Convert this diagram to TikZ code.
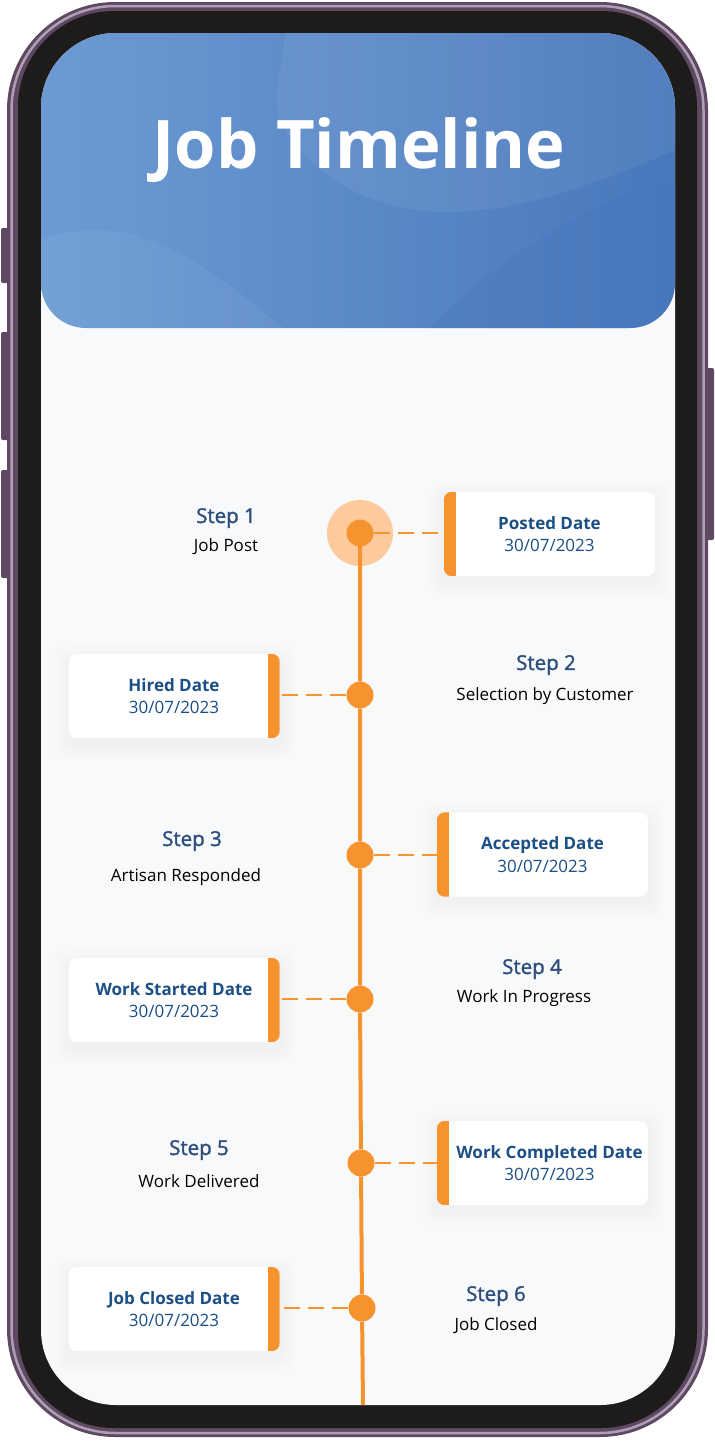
\documentclass[tikz,border=0pt]{standalone}
\usepackage{fontspec}
\setmainfont{Open Sans}
\newfontfamily\stepfont[FakeBold=1.5]{Open Sans}
\usepackage{xcolor}
\usepackage{tikz}
\usetikzlibrary{positioning, calc}

\definecolor{framepurple}{HTML}{5E4862}
\definecolor{framelight}{HTML}{AE9FB3}
\definecolor{bezel}{HTML}{1D1C1B}
\definecolor{screenbg}{HTML}{F8F9FA}
\definecolor{headlight}{HTML}{6C9BD3}
\definecolor{headdark}{HTML}{4977BC}
\definecolor{tlorange}{HTML}{F7932F}
\definecolor{halo}{HTML}{FCCA9C}
\definecolor{cardblue}{HTML}{1C4F86}
\definecolor{stepblue}{HTML}{2E4F7E}

\begin{document}
\begin{tikzpicture}[
    x=1pt, y=-1pt,
    dot/.style={circle, fill=tlorange, minimum size=27pt, inner sep=0pt},
    card/.style={rectangle, rounded corners=8pt, fill=white, minimum width=211pt,
      minimum height=84pt, inner sep=0pt, align=center, text=cardblue,
      font=\fontsize{17}{22.5}\selectfont},
    steplbl/.style={align=center, font=\stepfont\fontsize{20.5}{24}\selectfont, text=stepblue},
    stepsub/.style={align=center, font=\fontsize{17}{20}\selectfont, text=black},
    link/.style={draw=tlorange, line width=1.5pt, dash pattern=on 16pt off 8pt},
    button/.style={fill=framepurple, rounded corners=2pt}
  ]
  \useasboundingbox (0,0) rectangle (715,1441);

  % phone body
  \fill[button] (1,228) rectangle (9,283);
  \fill[button] (1,332) rectangle (9,440);
  \fill[button] (1,470) rectangle (9,578);
  \fill[button] (706,368) rectangle (714,540);
  \fill[framepurple, rounded corners=108pt] (7,2) rectangle (708,1437);
  \draw[framelight, line width=2.5pt, rounded corners=104pt] (11.5,6) rectangle (703.5,1433);
  \fill[bezel, rounded corners=96pt] (18,11) rectangle (697,1428);
  \fill[screenbg, rounded corners=75pt] (41,33) rectangle (675,1405);

  % header
  \begin{scope}
    \clip[rounded corners=75pt] (41,33) rectangle (675,1405);
    \clip[rounded corners=45pt] (41,0) rectangle (675,328);
    \shade[left color=headlight, right color=headdark] (41,0) rectangle (675,328);
    \fill[white, opacity=0.06] (41,0) -- (280,0) .. controls (300,60) and (250,100) .. (300,150)
      .. controls (400,260) and (560,200) .. (675,150) -- (675,0) -- cycle;
    \fill[white, opacity=0.05] (41,240) .. controls (150,200) and (230,290) .. (300,340) -- (41,340) -- cycle;
    \fill[headdark, opacity=0.35] (675,180) .. controls (580,200) and (470,280) .. (420,340) -- (675,340) -- cycle;
  \end{scope}
  \node[text=white, font=\bfseries\fontsize{67}{76}\selectfont] (title) at (359,150) {Job Timeline};

  % soft shadows under the cards
  \foreach \cx/\cy in {549.5/534, 174/696, 542.5/854.5, 174/1000, 542.5/1163, 174/1309}
    \foreach \i in {1,...,8}
      \fill[black, opacity=0.005, rounded corners=8pt+\i pt]
        (\cx-105.5-2*\i, \cy-42-2*\i+6) rectangle (\cx+105.5+2*\i, \cy+42+2*\i+6);

  % timeline
  \node[circle, fill=halo, minimum size=66pt, inner sep=0pt] (h1) at (360,533) {};
  \node[dot] (d1) at (360,533) {};
  \node[dot] (d2) at (360,695) {};
  \node[dot] (d3) at (360,855) {};
  \node[dot] (d4) at (360,999) {};
  \node[dot] (d5) at (361,1163) {};
  \node[dot] (d6) at (362,1308) {};
  \coordinate (tend) at (363,1405);
  \draw[tlorange, line width=4pt] (d1.center) -- (d2) (d2) -- (d3) (d3) -- (d4)
    (d4) -- (d5) (d5) -- (d6) (d6) -- (tend);

  % date cards
  \node[card] (c1) at (549.5,534) {\textbf{Posted Date}\\30/07/2023};
  \node[card] (c2) at (174,696) {\textbf{Hired Date}\\30/07/2023};
  \node[card] (c3) at (542.5,854.5) {\textbf{Accepted Date}\\30/07/2023};
  \node[card] (c4) at (174,1000) {\textbf{Work Started Date}\\30/07/2023};
  \node[card] (c5) at (542.5,1163) {\hspace*{14pt}\textbf{Work Completed Date}\\\hspace*{14pt}30/07/2023};
  \node[card] (c6) at (174,1309) {\textbf{Job Closed Date}\\30/07/2023};

  % orange edges
  \foreach \c in {c1, c3, c5} {
    \begin{scope}
      \clip[rounded corners=8pt] (\c.south west) rectangle (\c.north east);
      \fill[tlorange] (\c.south west) rectangle ([xshift=12pt]\c.north west);
    \end{scope}
  }
  \foreach \c in {c2, c4, c6} {
    \begin{scope}
      \clip[rounded corners=8pt] (\c.south west) rectangle (\c.north east);
      \fill[tlorange] ([xshift=-12pt]\c.south east) rectangle (\c.north east);
    \end{scope}
  }

  % dashed links
  \draw[link] (d1.east) -- (d1.east -| c1.west);
  \draw[link] (d2.west) -- (d2.west -| c2.east);
  \draw[link] (d3.east) -- (d3.east -| c3.west);
  \draw[link] (d4.west) -- (d4.west -| c4.east);
  \draw[link] (d5.east) -- (d5.east -| c5.west);
  \draw[link] (d6.west) -- (d6.west -| c6.east);

  % step labels
  \node[steplbl] (s1) at (226,518) {Step 1};
  \node[stepsub] (t1) at (226,547) {Job Post};
  \node[steplbl] (s2) at (546,665) {Step 2};
  \node[stepsub] (t2) at (545,696) {Selection by Customer};
  \node[steplbl] (s3) at (192,841) {Step 3};
  \node[stepsub] (t3) at (186,877) {Artisan Responded};
  \node[steplbl] (s4) at (532,969) {Step 4};
  \node[stepsub] (t4) at (524,998) {Work In Progress};
  \node[steplbl] (s5) at (199,1150) {Step 5};
  \node[stepsub] (t5) at (199,1181) {Work Delivered};
  \node[steplbl] (s6) at (496,1296) {Step 6};
  \node[stepsub] (t6) at (496,1326) {Job Closed};
\end{tikzpicture}
\end{document}
